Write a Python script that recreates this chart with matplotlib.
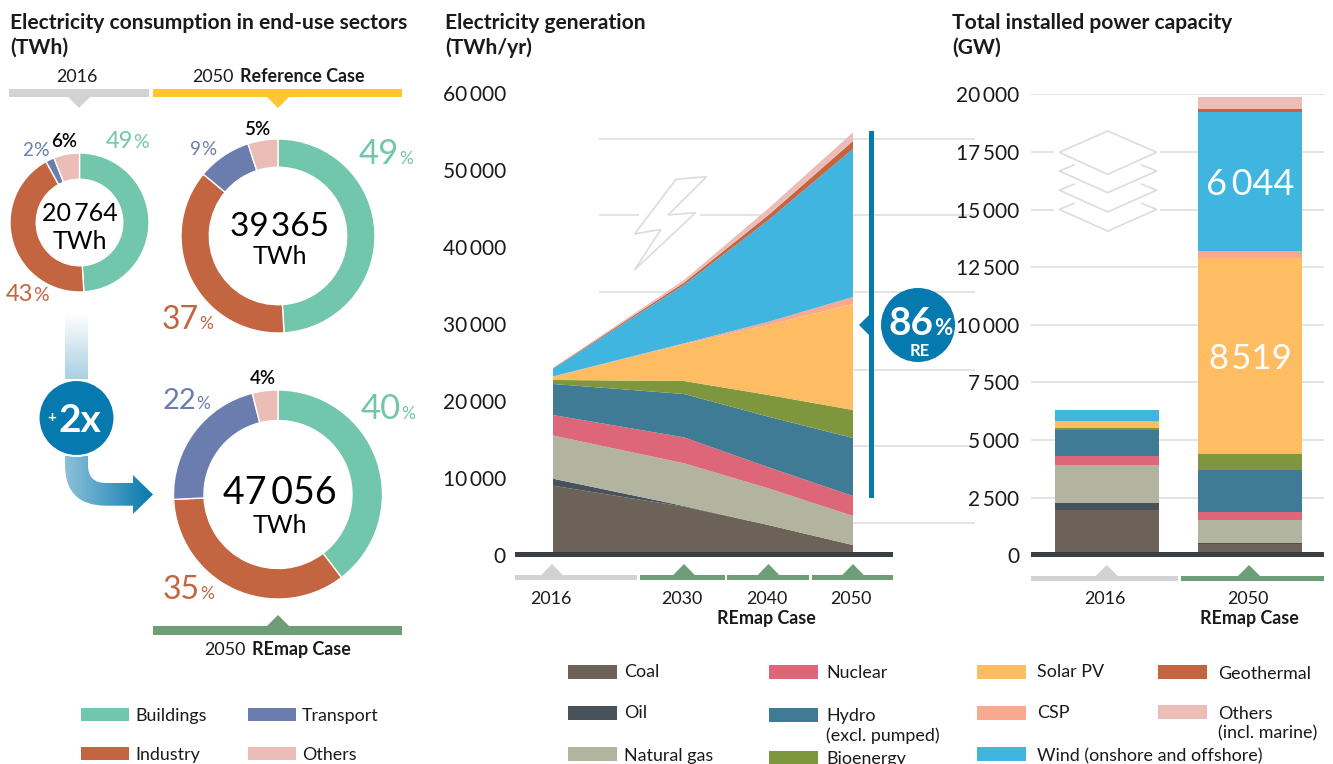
import numpy as np
import matplotlib
matplotlib.use('Agg')
import matplotlib.pyplot as plt
from matplotlib.patches import Polygon, Rectangle, Circle, PathPatch
from matplotlib.path import Path
from matplotlib.transforms import ScaledTranslation

plt.rcParams['font.family'] = ['Lato', 'DejaVu Sans']
W, H = 1333, 764
TS = '\u2009'
HS = '\u200a'

# ---- data ----
sectors = ['Buildings', 'Industry', 'Transport', 'Others']
share_2016 = [49, 43, 2, 6]
share_ref = [49, 37, 9, 5]
share_remap = [40, 35, 22, 4]
total_2016 = '20' + TS + '764'
total_ref = '39' + HS + '365'
total_remap = '47' + TS + '056'

gen_years = [2016, 2030, 2040, 2050]
gen_labels = ['2016', '2030', '2040', '2050']
gen_coal = [9000, 6270, 3890, 1290]
gen_oil = [910, 90, 0, 0]
gen_gas = [5610, 5550, 4770, 3780]
gen_nuclear = [2660, 3370, 2730, 2590]
gen_hydro = [4030, 5630, 6570, 7530]
gen_bio = [520, 1690, 2820, 3640]
gen_solar = [430, 4790, 9090, 13760]
gen_csp = [30, 100, 420, 920]
gen_wind = [1000, 7580, 13220, 19220]
gen_geo = [70, 300, 650, 1040]
gen_others = [30, 340, 860, 1120]
gen_ticks = [0, 10000, 20000, 30000, 40000, 50000, 60000]

cap_labels = ['2016', '2050']
cap_coal = [1970, 500]
cap_oil = [300, 38]
cap_gas = [1650, 998]
cap_nuclear = [390, 347]
cap_hydro = [1130, 1822]
cap_bio = [87, 694]
cap_solar = [303, 8519]
cap_csp = [0, 290]
cap_wind = [478, 6044]
cap_geo = [0, 130]
cap_others = [0, 520]
cap_ticks = [0, 2500, 5000, 7500, 10000, 12500, 15000, 17500, 20000]

# ---- style ----
C_SECT = ['#72c6ab', '#c26540', '#6b7dae', '#ecbcb7']
C_GEN = ['#6c6257', '#47525b', '#b2b4a0', '#dd6679', '#3f7b95', '#7e973f',
         '#febc63', '#faa98f', '#40b5e0', '#c26540', '#ecbcb7']
BLUE = '#0679ae'
GRID = '#dcdcdc'
GREY = '#d1d2d4'
GREEN = '#6d9e78'
YEL = '#ffc533'
DARK = '#3a3f44'
TXT = '#1a1a1a'


def fs(px):
    return px * 0.72


fig = plt.figure(figsize=(W / 100, H / 100), dpi=100, facecolor='white')


def rect(x0, y0, x1, y1):
    return [x0 / W, 1 - y1 / H, (x1 - x0) / W, (y1 - y0) / H]


def overlay(z):
    a = fig.add_axes([0, 0, 1, 1], zorder=z)
    a.set_xlim(0, W)
    a.set_ylim(H, 0)
    a.axis('off')
    a.patch.set_alpha(0)
    return a


bg = overlay(0)
fg = overlay(5)


def t(x, y, s, size=12.9, color=TXT, ha='left', va='baseline', weight='normal', ax=fg):
    return ax.text(x, y, s, fontsize=size, color=color, ha=ha, va=va, fontweight=weight)


def box(x0, y0, x1, y1, c, ax=fg, **kw):
    ax.add_patch(Rectangle((x0, y0), x1 - x0, y1 - y0, fc=c, ec='none', **kw))


def marker_bar(x0, x1, y0, y1, cx, apex, c):
    box(x0, y0, x1, y1, c)
    by = y0 if apex < y0 else y1
    fg.add_patch(Polygon([(cx - 11, by), (cx, apex), (cx + 11, by)], fc=c, ec='none'))


# ---- titles ----
for x, l1, l2 in [(10, 'Electricity consumption in end-use sectors', '(TWh)'),
                  (445, 'Electricity generation', '(TWh/yr)'),
                  (952, 'Total installed power capacity', '(GW)')]:
    t(x, 29, l1, 15.1, weight='bold')
    t(x, 54, l2, 15.1, weight='bold')

# ---- donuts ----
donuts = [(share_2016, 79.5, 222.5, 69.5, 43.3),
          (share_ref, 278, 236, 97, 68.7),
          (share_remap, 278, 494.5, 104.5, 74)]
for vals, cx, cy, R, r in donuts:
    a = fig.add_axes(rect(cx - R, cy - R, cx + R, cy + R), zorder=1)
    a.pie(vals, colors=C_SECT, startangle=90, counterclock=False, radius=1,
          wedgeprops=dict(width=1 - r / R, edgecolor='white', linewidth=1))
    a.set_xlim(-1, 1)
    a.set_ylim(-1, 1)


def pct(xnum_r, y, v, c, s1, s2):
    t(xnum_r + 1, y, str(v), s1, c, ha='right')
    t(xnum_r + 1, y, '%', s2, c)


pct(132, 148, share_2016[0], C_SECT[0], 17, 14)
pct(32, 156, share_2016[2], C_SECT[2], 13.5, 14)
pct(32, 300.7, share_2016[1], C_SECT[1], 17, 14)
t(64, 147, f'{share_2016[3]}%', 13.5, 'black', ha='center', weight='semibold')
pct(398, 164, share_ref[0], C_SECT[0], 25, 12.5)
pct(198, 329, share_ref[1], C_SECT[1], 23, 12.5)
pct(200, 155, share_ref[2], C_SECT[2], 13.5, 13.5)
t(257, 134.7, f'{share_ref[3]}%', 13.5, 'black', ha='center', weight='semibold')
pct(400, 419, share_remap[0], C_SECT[0], 25, 12.5)
pct(199, 599, share_remap[1], C_SECT[1], 23, 12.5)
pct(195, 409, share_remap[2], C_SECT[2], 21, 12.5)
t(262.5, 384, f'{share_remap[3]}%', 13.5, 'black', ha='center', weight='semibold')

t(79.5, 220.7, total_2016, 18, 'black', ha='center')
t(79.5, 249.3, 'TWh', 18, 'black', ha='center')
t(280, 236, total_ref, 24, 'black', ha='center')
t(280, 264, 'TWh', 18, 'black', ha='center')
t(280, 504, total_remap, 27, 'black', ha='center')
t(280, 533, 'TWh', 18, 'black', ha='center')

# headers of donuts
t(77, 82, '2016', ha='center')
t(234, 82, '2050', ha='right')
t(239.5, 82, 'Reference Case', weight='bold')
t(246, 655, '2050', ha='right')
t(251.5, 655, 'REmap Case', weight='bold')
marker_bar(9, 149, 89, 97, 79, 108, GREY)
marker_bar(153, 402, 89, 97, 278, 108, YEL)
marker_bar(153, 402, 626, 635, 278, 615, GREEN)

# ---- growth arrow ----
grad = np.linspace(0, 1, 64).reshape(1, -1)
cmap = matplotlib.colors.LinearSegmentedColormap.from_list('g', ['#8cc0da', BLUE])
im = fg.imshow(grad, extent=(65, 153, 516, 456), cmap=cmap, aspect='auto', zorder=1)
arrow = Path([(65, 456), (88, 456), (88, 465), (88, 483), (106, 483), (133, 483), (133, 475),
              (153, 494.5), (133, 514), (133, 505.7), (106, 505.7), (65, 505.7), (65, 465), (65, 456)],
             [1, 2, 2, 3, 3, 2, 2, 2, 2, 2, 2, 3, 3, 79])
clip = PathPatch(arrow, fc='none', ec='none', transform=fg.transData)
fg.add_patch(clip)
im.set_clip_path(clip)
cmap2 = matplotlib.colors.LinearSegmentedColormap.from_list('g2', ['#ffffff', '#a9d0e3'])
fg.imshow(np.linspace(0, 1, 64).reshape(-1, 1), extent=(65, 88, 379, 313), cmap=cmap2, aspect='auto', zorder=1)
fg.set_xlim(0, W)
fg.set_ylim(H, 0)
fg.add_patch(Circle((76.5, 418), 38, fc=BLUE, ec='white', lw=1.5, zorder=2))
t(51.5, 422, '+', 11, 'white', ha='center', weight='bold').set_zorder(3)
t(58, 431.7, '2x', 28, 'white', weight='bold').set_zorder(3)

# ---- legends ----
for lab, c, x, y in [(sectors[0], C_SECT[0], 81, 708), (sectors[2], C_SECT[2], 248, 708),
                     (sectors[1], C_SECT[1], 81, 747), (sectors[3], C_SECT[3], 248, 747)]:
    box(x, y, x + 48, y + 12.5, c)
    t(x + 54, y + 8, lab, va='center')

leg = [('Coal', 0, 568, 665, 624, 672), ('Oil', 1, 568, 706, 624, 713),
       ('Natural gas', 2, 568, 747, 624, 756), ('Nuclear', 3, 768.5, 665, 826, 673),
       ('Hydro\n(excl. pumped)', 4, 768.5, 708, 826, None), ('Bioenergy', 5, 768.5, 751, 826, 759),
       ('Solar PV', 6, 976.5, 665, 1037, 672), ('CSP', 7, 976.5, 706, 1037, 713),
       ('Wind (onshore and offshore)', 8, 976.5, 747, 1037, 756),
       ('Geothermal', 9, 1158, 665, 1218, 674), ('Others\n(incl. marine)', 10, 1158, 705, 1218, None)]
for lab, i, x, y, tx, ty in leg:
    box(x, y, x + 49, y + 14, C_GEN[i])
    if ty is None:
        a, b = lab.split('\n')
        y0 = 716 if i == 4 else 713.7
        t(tx, y0, a, va='center')
        t(tx, y0 + 19.5, b, va='center')
    else:
        t(tx, ty, lab, va='center')

# ---- generation area chart ----
for gy in [138.5, 215, 292, 369.5, 446, 523]:
    bg.plot([599, 975], [gy, gy], color=GRID, lw=1.1, solid_capstyle='butt')
bg.set_xlim(0, W)
bg.set_ylim(H, 0)
bg.add_patch(Rectangle((639, 205), 61, 20, fc='white', ec='none', zorder=3))
bolt = [(676, 179.3), (706.5, 176.7), (668, 215), (695.5, 212.7), (634.5, 270), (661, 229.3), (634.5, 234)]
bg.add_patch(Polygon(bolt, closed=True, fc='white', ec=GRID, lw=1.2, zorder=4))

a1 = fig.add_axes(rect(553, 93, 853, 555), zorder=2)
a1.patch.set_alpha(0)
fw = lambda x: np.interp(x, [2016, 2030, 2050], [0, 131, 300])
iv = lambda x: np.interp(x, [0, 131, 300], [2016, 2030, 2050])
a1.set_xscale('function', functions=(fw, iv))
a1.stackplot(gen_years, gen_coal, gen_oil, gen_gas, gen_nuclear, gen_hydro, gen_bio,
             gen_solar, gen_csp, gen_wind, gen_geo, gen_others, colors=C_GEN, linewidth=0)
a1.set_xlim(2016, 2050)
a1.set_ylim(0, 60000)
a1.set_yticks(gen_ticks)
a1.set_yticklabels([f'{v // 1000}{TS}000' if v else '0' for v in gen_ticks])
a1.set_xticks(gen_years)
a1.set_xticklabels(gen_labels)
a1.set_xticks([], minor=True)
a1.tick_params(axis='y', length=0, pad=fs(47), labelsize=15, labelcolor=TXT)
a1.tick_params(axis='x', length=0, pad=fs(36), labelsize=12.9, labelcolor=TXT)
for s in a1.spines.values():
    s.set_visible(False)
shift = ScaledTranslation(-2 / 100, 0, fig.dpi_scale_trans)
for l in a1.get_xticklabels():
    l.set_transform(l.get_transform() + shift)
t(766, 624, 'REmap Case', ha='center', weight='bold')

box(515, 552, 893, 557, DARK)
marker_bar(515, 637, 575.3, 580, 552, 564, GREY)
marker_bar(640, 724.6, 575.3, 580, 684, 564, GREEN)
marker_bar(727, 809, 575.3, 580, 768.5, 564, GREEN)
marker_bar(811.7, 893, 575.3, 580, 853, 564, GREEN)

box(869, 131, 874, 498, BLUE)
fg.add_patch(Polygon([(871, 313), (859, 325), (871, 337)], fc=BLUE, ec='none'))
fg.add_patch(Circle((918, 325), 37, fc=BLUE, ec='none'))
t(933, 335, '86', 28, 'white', ha='right', weight='bold')
t(934.5, 335, '%', 16, 'white', weight='bold')
t(919.5, 355.7, 'RE', 12, 'white', ha='center', weight='bold')

# ---- capacity bars ----
a2 = fig.add_axes(rect(1031, 94.3, 1324, 555.4), zorder=2)
a2.patch.set_alpha(0)
xpos = np.arange(len(cap_labels))
bottom = np.zeros(len(cap_labels))
for vals, c in zip([cap_coal, cap_oil, cap_gas, cap_nuclear, cap_hydro, cap_bio,
                    cap_solar, cap_csp, cap_wind, cap_geo, cap_others], C_GEN):
    a2.bar(xpos, vals, 0.727, bottom=bottom, color=c, linewidth=0, zorder=3)
    bottom += np.array(vals)
a2.set_xlim(-0.531, 1.517)
a2.set_ylim(0, 20000)
a2.set_yticks(cap_ticks)
a2.set_yticklabels([f'{v // 1000}{TS}{v % 1000:03d}' if v >= 1000 else '0' for v in cap_ticks])
a2.set_xticks(xpos)
a2.set_xticklabels(cap_labels)
a2.grid(axis='y', color=GRID, lw=1.1, zorder=0)
a2.set_axisbelow(True)
a2.tick_params(axis='y', length=0, pad=fs(12), labelsize=15, labelcolor=TXT)
a2.tick_params(axis='x', length=0, pad=fs(36), labelsize=12.9, labelcolor=TXT)
for s in a2.spines.values():
    s.set_visible(False)
for l in a2.get_xticklabels():
    l.set_transform(l.get_transform() + shift)
a2.text(1, cap_coal[1] + cap_oil[1] + cap_gas[1] + cap_nuclear[1] + cap_hydro[1] + cap_bio[1] + cap_solar[1] / 2,
        '8' + HS + '519', color='white', fontsize=25, ha='center', va='center_baseline', zorder=4)
a2.text(1, cap_coal[1] + cap_oil[1] + cap_gas[1] + cap_nuclear[1] + cap_hydro[1] + cap_bio[1] + cap_solar[1] + cap_csp[1] + cap_wind[1] / 2,
        '6' + TS + '044', color='white', fontsize=26, ha='center', va='center_baseline', zorder=4)
t(1249, 624, 'REmap Case', ha='center', weight='bold')
box(1031, 552, 1324, 557, DARK)
marker_bar(1031, 1178, 576, 581, 1106.7, 565, GREY)
marker_bar(1181, 1324, 576, 581, 1249, 565, GREEN)

# layers icon
box(1054, 145, 1160, 215, 'white')
fg.add_patch(Polygon([(1059.3, 152.3), (1107.7, 131), (1156.7, 152.3), (1107.7, 174.3)],
                     closed=True, fc='white', ec=GRID, lw=1.2))
for k in range(3):
    d = 19.2 * k
    fg.plot([1074, 1059.3, 1107.7, 1156.7, 1141.7],
            [165 + d, 171 + d, 192.7 + d, 171 + d, 165 + d], color=GRID, lw=1.2)
fg.set_xlim(0, W)
fg.set_ylim(H, 0)

fig.savefig('out.png', dpi=100)
